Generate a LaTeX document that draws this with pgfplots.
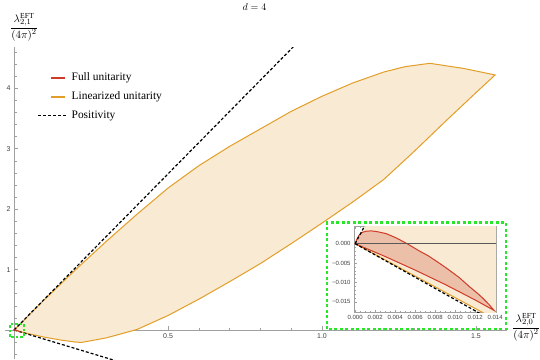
\documentclass[border=0pt]{standalone}
\usepackage{fontspec}
\setmainfont{Liberation Serif}
\setsansfont{Liberation Sans}
\usepackage{pgfplots}
\usepackage{pgfplotstable}
\pgfplotsset{compat=1.18}

\definecolor{orline}{RGB}{226,158,40}
\definecolor{orfill}{RGB}{249,234,211}
\definecolor{fullred}{RGB}{208,58,40}
\definecolor{redfill}{RGB}{236,191,168}
\definecolor{axgray}{RGB}{160,160,160}
\definecolor{boxgreen}{RGB}{40,230,40}

% full unitarity region (closed curve)
\pgfplotstableread{
x y
0 0
0.0002 0.0013
0.0004 0.0022
0.0007 0.0029
0.0011 0.0032
0.0016 0.0033
0.0022 0.0031
0.0031 0.0026
0.0041 0.0015
0.0052 0.0
0.0063 -0.0017
0.0073 -0.0031
0.0083 -0.0048
0.0093 -0.0066
0.0104 -0.0087
0.0114 -0.0110
0.0122 -0.0127
0.0128 -0.0141
0.0134 -0.0157
0.0139 -0.0172
0.012 -0.0145
0.009 -0.0105
0.006 -0.0068
0.003 -0.0033
0 0
}\fullunit

% linearized unitarity region (upper edge, then lower edge back)
\pgfplotstableread{
x y
0 0
0.1 0.51
0.2 1.0
0.3 1.47
0.4 1.92
0.5 2.35
0.6 2.72
0.7 3.04
0.8 3.33
0.9 3.62
1.0 3.87
1.1 4.09
1.2 4.27
1.27 4.36
1.35 4.415
1.46 4.33
1.562 4.222
1.5 3.93
1.4 3.45
1.3 2.96
1.2 2.49
1.1 2.12
1.0 1.77
0.9 1.43
0.8 1.10
0.7 0.80
0.6 0.51
0.5 0.24
0.4 0.01
0.3 -0.13
0.22 -0.205
0.2 -0.2
0.15 -0.165
0.1 -0.12
0.05 -0.065
0 0
}\linunit

\begin{document}
\begin{tikzpicture}
\useasboundingbox (0,0) rectangle (540pt,359pt);

\begin{axis}[
  at={(4.8pt,0pt)}, anchor=south west,
  width=502pt, height=311.7pt, scale only axis,
  xmin=-0.03, xmax=1.6, ymin=-0.48, ymax=4.68,
  axis lines=middle,
  axis line style={-, axgray, line width=0.8pt},
  tick align=inside,
  major tick length=4pt, minor tick length=2.5pt,
  every tick/.style={axgray, line width=0.6pt},
  xtick={0.5,1,1.5}, xticklabels={0.5,1.0,1.5},
  ytick={1,2,3,4}, yticklabels={1,2,3,4},
  minor xtick={0.1,0.2,...,1.6},
  minor ytick={-0.4,-0.2,...,4.6},
  tick label style={font=\sffamily\fontsize{7}{8}\selectfont, text=black!75},
]
\addplot[fill=orfill, draw=orline, line width=1pt] table {\linunit} -- cycle;
\addplot[black, line width=1.2pt, dash pattern=on 3pt off 2pt] coordinates {(0,0) (1.0,5.17)};
\addplot[black, line width=1.2pt, dash pattern=on 3pt off 2pt] coordinates {(0,0) (0.4,-0.616)};
\addplot[fill=redfill, draw=fullred, line width=1pt] table {\fullunit} -- cycle;
\draw[boxgreen, line width=1.8pt, dash pattern=on 2.5pt off 2pt] (axis cs:-0.013,-0.111) rectangle (axis cs:0.032,0.099);
\end{axis}

\begin{axis}[
  at={(354.1pt,47pt)}, anchor=south west,
  width=142pt, height=85.4pt, scale only axis,
  xmin=-0.0001, xmax=0.0141, ymin=-0.0176, ymax=0.0044,
  axis background/.style={fill=white},
  axis line style={axgray, line width=0.6pt},
  tick align=inside,
  major tick length=2.5pt, minor tick length=1.5pt,
  every tick/.style={axgray, line width=0.5pt},
  scaled ticks=false,
  xtick={0,0.002,0.004,0.006,0.008,0.010,0.012,0.014},
  xticklabels={0.000,0.002,0.004,0.006,0.008,0.010,0.012,0.014},
  ytick={-0.015,-0.010,-0.005,0},
  yticklabels={−0.015,−0.010,−0.005,0.000},
  minor x tick num=3, minor y tick num=4,
  tick label style={font=\sffamily\fontsize{6}{7}\selectfont, text=black!75},
]
\addplot[fill=orfill, draw=none] coordinates {(0,0) (0.0012,0.00576) (0.015,0.00576) (0.015,-0.02085)} -- cycle;
\addplot[orline, line width=1pt] coordinates {(0,0) (0.015,-0.02085)};
\addplot[fill=redfill, draw=fullred, line width=1pt] table {\fullunit} -- cycle;
\addplot[black!65, line width=0.6pt] coordinates {(0,0) (0.0142,0)};
\addplot[black, line width=1.2pt, dash pattern=on 3pt off 2pt] coordinates {(0,0) (0.0012,0.00576)};
\addplot[black, line width=1.2pt, dash pattern=on 3pt off 2pt] coordinates {(0,0) (0.0142,-0.02045)};
\end{axis}

\draw[boxgreen, line width=2.2pt, dash pattern=on 3pt off 2.5pt] (327pt,30pt) rectangle (506pt,136.5pt);

% legend
\fill[fill=fullred] (51pt,280.4pt) rectangle (65pt,282.2pt);
\node[anchor=west, inner sep=0pt, font=\fontsize{11.4}{13}\selectfont] at (71.5pt,281.3pt) {Full unitarity};
\fill[fill=orline] (51pt,261.4pt) rectangle (65pt,263.2pt);
\node[anchor=west, inner sep=0pt, font=\fontsize{11.4}{13}\selectfont] at (71.5pt,262.3pt) {Linearized unitarity};
\draw[black, line width=1.2pt, dash pattern=on 3pt off 2pt] (38pt,243.3pt) -- (67pt,243.3pt);
\node[anchor=west, inner sep=0pt, font=\fontsize{11.4}{13}\selectfont] at (71.5pt,243.3pt) {Positivity};

% labels
\node at (254.5pt,352pt) {\fontsize{10}{12}\selectfont $d = 4$};
\node at (24pt,332pt) {\fontsize{11}{13}\selectfont $\displaystyle\frac{\lambda^{\mathrm{EFT}}_{2,1}}{(4\pi)^2}$};
\node at (526pt,32pt) {\fontsize{11}{13}\selectfont $\displaystyle\frac{\lambda^{\mathrm{EFT}}_{2,0}}{(4\pi)^2}$};
\end{tikzpicture}
\end{document}
